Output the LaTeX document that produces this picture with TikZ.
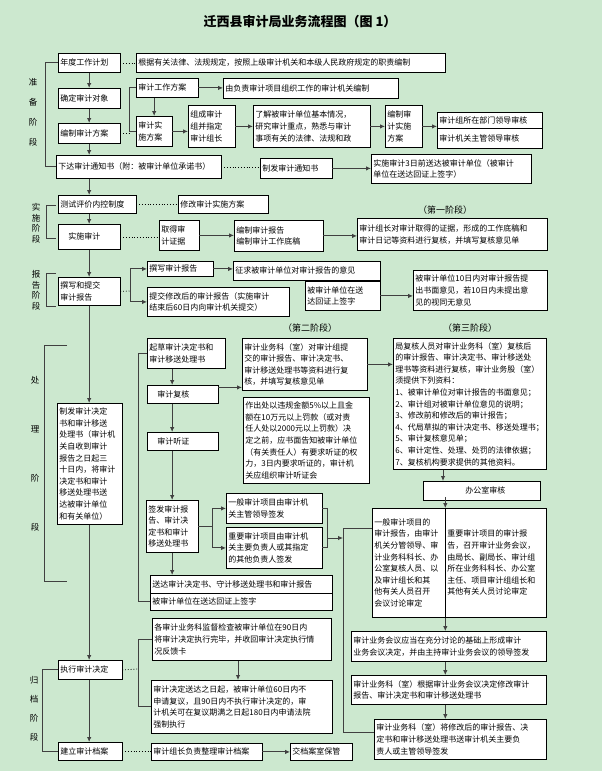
\documentclass[tikz,border=0pt]{standalone}
\usepackage{fontspec}
\setmainfont{Noto Sans CJK SC}
\usetikzlibrary{arrows.meta}
\XeTeXlinebreaklocale "zh"
\XeTeXlinebreakskip = 0pt plus 1pt
\definecolor{bgreen}{RGB}{204,232,207}
\tikzset{
  box/.style={draw=black, line width=0.8pt, fill=white, anchor=north west, inner sep=2pt, align=left,
    font=\fontsize{8}{11.6}\selectfont},
  arr/.style={line width=0.9pt, draw=black!75, -{Latex[length=5pt,width=4.5pt]}},
  lnk/.style={line width=0.9pt, draw=black!75},
  dot/.style={line width=0.8pt, dotted},
  side/.style={font=\fontsize{8.5}{10}\selectfont},
  stage/.style={font=\fontsize{9}{10}\selectfont}
}
% box: name, x, y, width, height, text
\newcommand{\flowbox}[6]{%
  \pgfmathsetmacro{\flowtw}{#4-4.5}%
  \node[box, text width=\flowtw pt, minimum height=#5pt] (#1) at (#2,#3) {#6};}

\begin{document}
\begin{tikzpicture}[x=1pt, y=-1pt]
    % Background and title
    \fill[bgreen] (0,0) rectangle (602,771);
    \useasboundingbox (0,0) rectangle (602,771);
    \node[font=\fontsize{13}{15}\selectfont\bfseries] (title) at (300,22) {迁西县审计局业务流程图（图 1）};

    % Preparation stage
    \flowbox{nianfu}{58}{53}{62}{19}{年度工作计划}
    \flowbox{genju}{136}{53}{309}{19}{根据有关法律、法规规定，按照上级审计机关和本级人民政府规定的职责编制}
    \flowbox{queding}{58}{88}{62}{20}{确定审计对象}
    \flowbox{gzfa}{136}{78}{62}{19}{审计工作方案}
    \flowbox{youfz}{223}{78}{175}{20}{由负责审计项目组织工作的审计机关编制}
    \flowbox{bzfa}{58}{123}{62}{20}{编制审计方案}
    \flowbox{ssfa}{136}{116}{36}{30}{审计实\\施方案}
    \flowbox{zucheng}{188}{105}{47}{42}{组成审计\\组并指定\\审计组长}
    \flowbox{liaojie}{253}{105}{117}{42}{了解被审计单位基本情况，\\研究审计重点，熟悉与审计\\事项有关的法律、法规和政}
    \flowbox{bzssfa}{385}{105}{37}{42}{编制审\\计实施\\方案}
    \flowbox{bmsh}{437}{112}{105}{16}{审计组所在部门领导审核}
    \flowbox{zgsh}{437}{128}{105}{20}{审计机关主管领导审核}
    \flowbox{xiada}{56}{155}{165}{23}{下达审计通知书（附：被审计单位承诺书）}
    \flowbox{zhifa}{260}{158}{72}{20}{制发审计通知书}
    \flowbox{sanri}{371}{154}{160}{29}{实施审计3日前送达被审计单位（被审计\\单位在送达回证上签字）}

    % Implementation stage
    \flowbox{ceshi}{58}{195}{78}{18}{测试评价内控制度}
    \flowbox{xiugai}{178}{195}{90}{18}{修改审计实施方案}
    \flowbox{ssaj}{58}{224}{62}{25}{\quad 实施审计}
    \flowbox{qude}{159}{220}{40}{30}{取得审\\计证据}
    \flowbox{bzbg}{234}{220}{89}{31}{编制审计报告\\编制审计工作底稿}
    \node[stage] (st1) at (445,210) {（第一阶段）};
    \flowbox{zuzhang}{357}{218}{190}{32}{审计组长对审计取得的证据，形成的工作底稿和\\审计日记等资料进行复核，并填写复核意见单}

    % Report stage
    \flowbox{zhuanxie}{58}{277}{62}{28}{撰写和提交\\审计报告}
    \flowbox{zxbg}{147}{261}{66}{15}{撰写审计报告}
    \flowbox{zhengqiu}{233}{261}{147}{19}{征求被审计单位对审计报告的意见}
    \flowbox{tjxg}{147}{287}{142}{29}{提交修改后的审计报告（实施审计\\结束后60日内向审计机关提交）}
    \flowbox{qianzi}{305}{281}{75}{29}{被审计单位在送\\达回证上签字}
    \flowbox{shiri}{413}{270}{134}{40}{被审计单位10日内对审计报告提\\出书面意见，若10日内未提出意\\见的视同无意见}

    % Handling stage
    \node[stage] (st2) at (310,328) {（第二阶段）};
    \node[stage] (st3) at (470,328) {（第三阶段）};
    \flowbox{zhifajd}{57}{403}{65}{121}{制发审计决定\\书和审计移送\\处理书（审计机\\关自收到审计\\报告之日起三\\十日内，将审计\\决定书和审计\\移送处理书送\\达被审计单位\\和有关单位）}
    \flowbox{qicao}{147}{338}{78}{30}{起草审计决定书和\\审计移送处理书}
    \flowbox{ywkfh}{242}{338}{125}{52}{审计业务科（室）对审计组提\\交的审计报告、审计决定书、\\审计移送处理书等资料进行复\\核，并填写复核意见单}
    \flowbox{fuhe}{147}{385}{71}{18}{\quad 审计复核}
    \flowbox{zuochu}{243}{397}{126}{86}{作出处以违规金额5\%以上且金\\额在10万元以上罚款（或对责\\任人处以2000元以上罚款）决\\定之前，应书面告知被审计单位\\（有关责任人）有要求听证的权\\力，3日内要求听证的，审计机\\关应组织审计听证会}
    \flowbox{tingzheng}{147}{432}{71}{18}{\quad 审计听证}
    \flowbox{qianfa}{146}{500}{52}{52}{签发审计报\\告、审计决\\定书和审计\\移送处理书}
    \flowbox{yiban}{226}{493}{96}{30}{一般审计项目由审计机\\关主管领导签发}
    \flowbox{zhongyao}{226}{527}{96}{41}{重要审计项目由审计机\\关主要负责人或其指定\\的其他负责人签发}
    \flowbox{songda}{150}{575}{182}{18}{送达审计决定书、守计移送处理书和审计报告}
    \flowbox{qianzib}{150}{593}{182}{17}{被审计单位在送达回证上签字}
    \flowbox{jufuhe}{393}{338}{153}{131}{局复核人员对审计业务科（室）复核后\\的审计报告、审计决定书、审计移送处\\理书等资料进行复核，审计业务股（室）\\须提供下列资料：\\1、被审计单位对审计报告的书面意见；\\2、审计组对被审计单位意见的说明；\\3、修改前和修改后的审计报告；\\4、代局草拟的审计决定书、移送处理书；\\5、审计复核意见单；\\6、审计定性、处理、处罚的法律依据；\\7、复核机构要求提供的其他资料。}
    \flowbox{bangong}{423}{481}{117}{19}{\hspace{40pt}办公室审核}
    \flowbox{yibanxm}{372}{508}{73}{109}{一般审计项目的\\审计报告，由审计\\机关分管领导、审\\计业务科科长、办\\公室复核人员、以\\及审计组长和其\\他有关人员召开\\会议讨论审定}
    \flowbox{zhongyaoxm}{445}{508}{101}{109}{重要审计项目的审计报\\告，召开审计业务会议，\\由局长、副局长、审计组\\所在业务科科长、办公室\\主任、项目审计组组长和\\其他有关人员讨论审定\\[30pt]}
    \flowbox{huiyi}{351}{631}{195}{30}{审计业务会议应当在充分讨论的基础上形成审计\\业务会议决定，并由主持审计业务会议的领导签发}
    \flowbox{genjuxg}{351}{675}{195}{29}{审计业务科（室）根据审计业务会议决定修改审计\\报告、审计决定书和审计移送处理书}
    \flowbox{jiangxg}{374}{719}{172}{40}{审计业务科（室）将修改后的审计报告、决\\定书和审计移送处理书送审计机关主要负\\责人或主管领导签发}

    % Archive stage
    \flowbox{gejc}{152}{618}{179}{42}{各审计业务科监督检查被审计单位在90日内\\将审计决定执行完毕，并收回审计决定执行情\\况反馈卡}
    \flowbox{songdaqi}{151}{680}{181}{53}{审计决定送达之日起，被审计单位60日内不\\申请复议，且90日内不执行审计决定的，审\\计机关可在复议期满之日起180日内申请法院\\强制执行}
    \flowbox{zhixing}{58}{660}{64}{19}{执行审计决定}
    \flowbox{jianli}{58}{742}{64}{18}{建立审计档案}
    \flowbox{zhengli}{151}{743}{111}{17}{审计组长负责整理审计档案}
    \flowbox{jiaodang}{290}{743}{62}{17}{交档案室保管}

    % Stage labels on the left
    \foreach \c [count=\i] in {准,备,阶,段} \node[side] at (33,{62+\i*20}) {\c};
    \foreach \c [count=\i] in {实,施,阶,段} \node[side] at (36,{197+\i*10.5}) {\c};
    \foreach \c [count=\i] in {报,告,阶,段} \node[side] at (36,{264+\i*10.5}) {\c};
    \foreach \c [count=\i] in {处,理,阶,段} \node[side] at (35,{331+\i*49}) {\c};
    \foreach \c [count=\i] in {归,档,阶,段} \node[side] at (34,{661+\i*19}) {\c};

    % Brackets
    \draw[lnk] (nianfu.west) -- ++(-13,0) |- (xiada.west);
    \draw[lnk] (56,205) -- (46,205) -- (46,238) -- (56,238);
    \draw[lnk] (56,273) -- (46,273) -- (46,306) -- (56,306);
    \draw[lnk] (67,345) -- (44,345) -- (44,581) -- (67,581);
    \draw[lnk] (zhixing.west) -- ++(-16,0) |- (jianli.west);

    % Main column
    \draw[arr] (nianfu) -- (queding);
    \draw[arr] (queding) -- (bzfa);
    \draw[arr] (bzfa.south) -- (bzfa.south |- xiada.north);
    \draw[arr] (bzfa.south |- xiada.south) -- (bzfa.south |- ceshi.north);
    \draw[arr] (bzfa.south |- ceshi.south) -- (bzfa.south |- ssaj.north);
    \draw[arr] (ssaj.south -| bzfa.south) -- (zhuanxie.north -| bzfa.south);
    \draw[arr] (zhuanxie.south -| bzfa.south) -- (zhifajd.north -| bzfa.south);
    \draw[arr] (zhifajd.south -| bzfa.south) -- (zhixing.north -| bzfa.south);
    \draw[arr] (zhixing.south -| bzfa.south) -- (jianli.north -| bzfa.south);

    % Preparation links
    \draw[dot] (nianfu.east) -- (genju.west);
    \coordinate (fa) at ([xshift=-7pt]bzfa.east -| gzfa.west);
    \draw[dot] (bzfa.east) -- (fa);
    \draw[lnk] (gzfa.west) -- ++(-7,0) |- (ssfa.west);
    \draw[arr] (gzfa.east) -- (gzfa.east -| youfz.west);
    \draw[arr] (gzfa.south -| ssfa.north) -- (ssfa.north);
    \draw[arr] (ssfa.east) -- (ssfa.east -| zucheng.west);
    \draw[arr] (zucheng.east) -- (zucheng.east -| liaojie.west);
    \draw[arr] (liaojie.east) -- (liaojie.east -| bzssfa.west);
    \draw[arr] (bzssfa.east) -- (bzssfa.east -| bmsh.west);
    \draw[dot] (xiada.east) -- (xiada.east -| zhifa.west);
    \draw[arr] (zhifa.east) -- (zhifa.east -| sanri.west);

    % Implementation links
    \draw[dot] (ceshi.east) -- (ceshi.east -| xiugai.west);
    \draw[dot] (ssaj.east) -- (ssaj.east -| qude.west);
    \draw[arr] (qude.east) -- (qude.east -| bzbg.west);
    \draw[arr] (bzbg.east) -- (bzbg.east -| zuzhang.west);

    % Report links
    \coordinate (zj) at (130,291);
    \draw[dot] (zhuanxie.east) -- (zj);
    \draw[arr] (zj) |- (zxbg.west);
    \draw[arr] (zj) |- (tjxg.west);
    \draw[arr] (zxbg.east) -- (zxbg.east -| zhengqiu.west);
    \draw[arr] (qianzi.east) -- (qianzi.east -| shiri.west);

    % Handling links
    \draw[lnk] (qicao.west) -- ++(-9,0) |- (qianzib.west);
    \draw[arr] (qicao.south -| qianfa.north) -- (fuhe.north -| qianfa.north);
    \draw[arr] (fuhe.south -| qianfa.north) -- (tingzheng.north -| qianfa.north);
    \draw[arr] (tingzheng.south -| qianfa.north) -- (qianfa.north);
    \draw[arr] (qianfa.south) -- (songda.north -| qianfa.south);
    \draw[arr] ([yshift=7pt]fuhe.east) -- ([yshift=7pt]fuhe.east -| ywkfh.west);
    \draw[arr] (ywkfh.east) -- (ywkfh.east -| jufuhe.west);
    \coordinate (qf) at (212,526);
    \draw[lnk] (qianfa.east |- qf) -- (qf);
    \draw[arr] (qf) |- (yiban.west);
    \draw[arr] (qf) |- (zhongyao.west);
    \draw[lnk] (yiban.east) -- ++(5,0) |- (zhongyao.east);
    \coordinate (yz) at (327,538);
    \coordinate (ja) at (343,528);
    \coordinate (jb) at (343,732);
    \draw[arr] (yz) -- (ja |- yz);
    \draw[lnk] (ja -| yibanxm.west) -- (ja) -- (jb) -- (jb -| jiangxg.west);
    \coordinate (jx) at (443,0);
    \draw[arr] (jufuhe.south -| jx) -- (bangong.north -| jx);
    \draw[arr] ([yshift=-6pt]bangong.east -| yibanxm.east) -- (yibanxm.north east);
    \draw[arr] (yibanxm.south east) -- (yibanxm.south east |- huiyi.north);
    \draw[arr] (yibanxm.south east |- huiyi.south) -- (yibanxm.south east |- genjuxg.north);
    \draw[arr] (yibanxm.south east |- genjuxg.south) -- (yibanxm.south east |- jiangxg.north);

    % Archive links
    \coordinate (zx) at (138,669);
    \draw[dot] (zhixing.east) -- (zx);
    \draw[lnk] (gejc.west) -- (gejc.west -| zx) -- (songdaqi.west -| zx) -- (songdaqi.west);
    \draw[arr] (gejc.south -| 238,0) -- (songdaqi.north -| 238,0);
    \draw[dot] (jianli.east) -- (jianli.east -| zhengli.west);
    \draw[arr] (zhengli.east) -- (zhengli.east -| jiaodang.west);
\end{tikzpicture}
\end{document}
